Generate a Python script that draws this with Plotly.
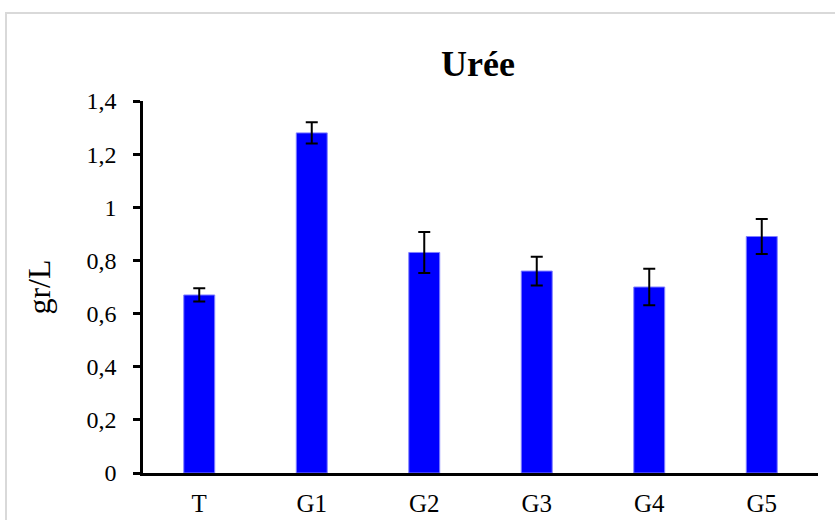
import plotly.graph_objects as go

categories = ["T", "G1", "G2", "G3", "G4", "G5"]
values = [0.67, 1.28, 0.83, 0.76, 0.70, 0.89]
errors = [0.025, 0.04, 0.077, 0.054, 0.069, 0.066]
y_ticks = [0, 0.2, 0.4, 0.6, 0.8, 1, 1.2, 1.4]
y_tick_labels = ["0", "0,2", "0,4", "0,6", "0,8", "1", "1,2", "1,4"]

W, H = 835, 520
L, R, T, B = 143, 17, 101, 47
pw, ph = W - L - R, H - T - B

fig = go.Figure()
fig.add_trace(go.Bar(
    x=categories, y=values,
    marker=dict(color="#0000FF", line=dict(color="#8080ff", width=1)),
    error_y=dict(type="data", array=errors, visible=True, color="black", thickness=2, width=6),
    width=0.275,
))

fig.update_layout(
    width=W, height=H,
    margin=dict(l=L, r=R, t=T, b=B, autoexpand=False),
    paper_bgcolor="white", plot_bgcolor="white",
    font=dict(family="Liberation Serif", color="black", size=24),
    title=dict(text="<b>Urée</b>", x=478 / W, xanchor="center", y=1 - 63 / H, yanchor="middle",
               font=dict(size=36, family="Liberation Serif")),
    showlegend=False,
    xaxis=dict(showline=True, linecolor="black", linewidth=3, ticks="", showgrid=False,
               tickfont=dict(size=25), ticklabelstandoff=6, automargin=False),
    yaxis=dict(range=[0, 1.4], tickvals=y_ticks, ticktext=y_tick_labels, showline=True,
               linecolor="black", linewidth=2.5, ticks="outside", ticklen=7, tickwidth=2.5,
               tickcolor="black", showgrid=False, zeroline=False, tickfont=dict(size=24),
               ticklabelstandoff=12, automargin=False,
               title=dict(text="gr/L", font=dict(size=32), standoff=27)),
)

# outer chart border (light gray)
fig.add_shape(type="rect", xref="paper", yref="paper",
              x0=(6 - L) / pw, x1=(W + 20 - L) / pw,
              y0=(H - B - (H + 20)) / ph, y1=(H - B - 13) / ph,
              line=dict(color="#d9d9d9", width=2), layer="below")

fig.write_html("out.html", config={"displayModeBar": False},
               post_script="document.body.style.margin='0';document.body.style.overflow='hidden';")
